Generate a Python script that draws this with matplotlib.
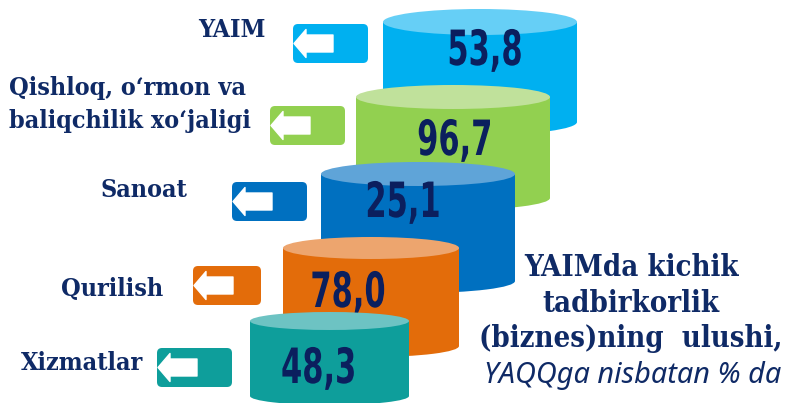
import matplotlib
matplotlib.use("Agg")
import matplotlib.pyplot as plt
from matplotlib.patches import Ellipse, Rectangle, FancyBboxPatch, Polygon
from matplotlib import font_manager as fm
from matplotlib.patheffects import AbstractPathEffect
from matplotlib.transforms import Affine2D
from matplotlib.textpath import TextPath

# ---------------- data ----------------
categories = ["YAIM", "Qishloq, o\u2018rmon va\nbaliqchilik xo\u2018jaligi", "Sanoat", "Qurilish", "Xizmatlar"]
values = [53.8, 96.7, 25.1, 78.0, 48.3]
title_lines = ["YAIMda kichik", "tadbirkorlik", "(biznes)ning  ulushi,"]
subtitle = "YAQQga nisbatan % da"

# ---------------- styles / layout (pixels) ----------------
body_colors = ["#00B0F0", "#92D050", "#0070C0", "#E36C0A", "#0E9E9B"]
top_colors = ["#66CFF6", "#C0E19B", "#5FA4D8", "#EDA56E", "#6DC3C3"]
cyl_x0 = [383, 356, 321, 283, 250]
cyl_x1 = [577, 550, 515, 459, 409]
cyl_top = [22, 97, 174, 248, 321]
cyl_bot = [122, 198, 281, 346, 396]
cyl_ry = [13, 12, 12, 11, 9]
num_x = [485, 455, 403, 348, 319]
num_base = [65, 155, 217, 307, 383]
num_target_w = 71  # pixel width of a 4-character value label
box_xy = [(293, 24), (270, 106), (232, 182), (193, 266), (157, 348)]
box_w = [75, 75, 75, 68, 75]
box_h = 39
label_x = [265, 9, 187, 163, 143]
label_ha = ["right", "left", "right", "right", "right"]
label_base = [37, 95, 197, 296, 370]
label_gap = 33
label_color = "#0F2A66"
num_color = "#0B1F5E"

# condensed bold sans for the numbers
narrow = None
for f in fm.fontManager.ttflist:
    nm = f.name.lower()
    fn = f.fname.lower()
    if ("narrow" in nm or "condensed" in nm or "narrow" in fn or "condensed" in fn) and "serif" not in nm and "mono" not in nm:
        if f.weight in ("bold", 700, "heavy", 800, 900):
            narrow = f.fname
            break
NUM_SIZE = 35
if narrow is not None:
    num_prop = fm.FontProperties(fname=narrow, size=NUM_SIZE)
else:
    num_prop = fm.FontProperties(family="DejaVu Sans", weight="bold", size=NUM_SIZE)

# horizontal squeeze factor so the number glyphs get the tall, narrow look
_tp = TextPath((0, 0), "53,8", prop=num_prop, size=NUM_SIZE)
_wpx = _tp.get_extents().width * 100 / 72
SX = min(1.0, num_target_w / _wpx)


class HSqueeze(AbstractPathEffect):
    """Squeeze text horizontally about its own centre."""

    def __init__(self, sx):
        super().__init__()
        self.sx = sx

    def draw_path(self, renderer, gc, tpath, affine, rgbFace=None):
        ext = tpath.get_extents(affine)
        cx = (ext.x0 + ext.x1) / 2
        aff = affine + Affine2D().translate(-cx, 0).scale(self.sx, 1).translate(cx, 0)
        renderer.draw_path(gc, tpath, aff, rgbFace)


serif_family = "DejaVu Serif"
serif_stretch = "condensed"

W, H = 786, 403
fig = plt.figure(figsize=(W / 100, H / 100), dpi=100)
ax = fig.add_axes([0, 0, 1, 1])
ax.set_xlim(0, W)
ax.set_ylim(H, 0)
ax.axis("off")

for i, (cat, val) in enumerate(zip(categories, values)):
    z = 10 + i * 5
    x0, x1 = cyl_x0[i], cyl_x1[i]
    cx = (x0 + x1) / 2
    w = x1 - x0
    ry = cyl_ry[i]
    # body
    ax.add_patch(Rectangle((x0, cyl_top[i]), w, cyl_bot[i] - cyl_top[i],
                           facecolor=body_colors[i], edgecolor="none", zorder=z))
    ax.add_patch(Ellipse((cx, cyl_bot[i]), w, 2 * ry,
                         facecolor=body_colors[i], edgecolor="none", zorder=z))
    ax.add_patch(Ellipse((cx, cyl_top[i]), w, 2 * ry,
                         facecolor=top_colors[i], edgecolor="none", zorder=z + 1))
    # value
    ax.text(num_x[i], num_base[i], f"{val:.1f}".replace(".", ","), ha="center",
            va="baseline", fontproperties=num_prop, color=num_color, zorder=z + 2,
            path_effects=[HSqueeze(SX)])
    # arrow box
    bx, by = box_xy[i]
    bw = box_w[i]
    ax.add_patch(FancyBboxPatch((bx, by), bw, box_h,
                                boxstyle="round,pad=0,rounding_size=5",
                                facecolor=body_colors[i], edgecolor="none", zorder=z))
    cy = by + box_h / 2
    arrow = [(bx + 1, cy), (bx + 13, cy - 14), (bx + 13, cy - 8.5), (bx + 40, cy - 8.5),
             (bx + 40, cy + 8.5), (bx + 13, cy + 8.5), (bx + 13, cy + 14)]
    ax.add_patch(Polygon(arrow, closed=True, facecolor="white", edgecolor="white",
                         linewidth=1, joinstyle="round", zorder=z + 1))
    # label
    for j, line in enumerate(cat.split("\n")):
        ax.text(label_x[i], label_base[i] + j * label_gap, line, ha=label_ha[i],
                va="baseline", fontsize=18, fontweight="bold", family=serif_family,
                fontstretch=serif_stretch, color=label_color, zorder=40)

title_base = [276, 312, 347]
for j, line in enumerate(title_lines):
    ax.text(631, title_base[j], line, ha="center", va="baseline", fontsize=21,
            fontweight="bold", family=serif_family, fontstretch=serif_stretch,
            color=label_color, zorder=40)
ax.text(633, 383, subtitle, ha="center", va="baseline", fontsize=20.8,
        style="italic", family="Noto Sans", color=label_color, zorder=40)

fig.savefig("out.png", dpi=100)
